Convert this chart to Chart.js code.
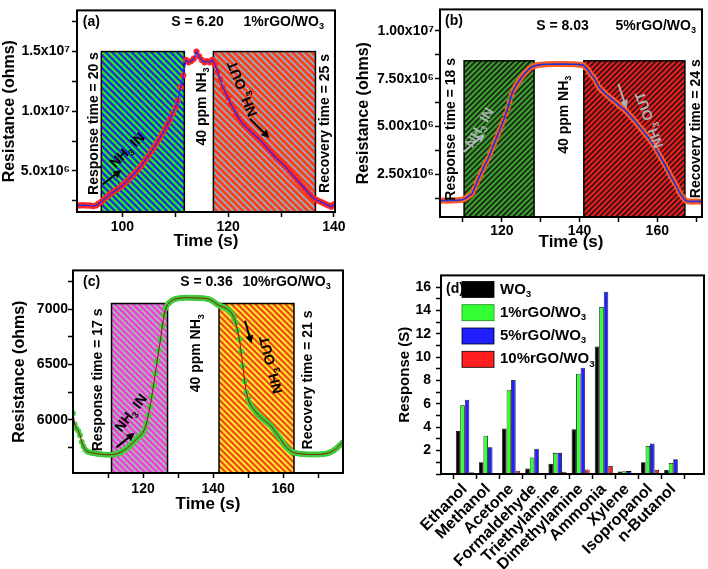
<!DOCTYPE html>
<html>
<head>
<meta charset="utf-8">
<script src="https://cdn.jsdelivr.net/npm/chart.js@4.4.0/dist/chart.umd.min.js"></script>
<style>
  body { margin: 0; background: #fff; width: 708px; height: 569px; position: relative; overflow: hidden; }
  canvas { position: absolute; }
</style>
</head>
<body>
<canvas id="ca" width="354" height="262" style="left:0;top:0"></canvas>
<canvas id="cb" width="354" height="262" style="left:354px;top:0"></canvas>
<canvas id="cc" width="354" height="307" style="left:0;top:262px"></canvas>
<canvas id="cd" width="354" height="307" style="left:354px;top:262px"></canvas>
<script>
// sampling: one point every 0.5 s
const stepT = 0.5;
const startA = 91.5, startB = 104, startC = 100;

// (a) 1%rGO/WO3, resistance in 10^6 ohms
const resistanceA = [
  2.1, 2.1, 2.12, 2.1, 2.1, 2.08, 2.05, 2.1, 2.25, 2.4,
  2.6, 2.8, 3.0, 3.15, 3.3, 3.45, 3.6, 3.8, 4.0, 4.2,
  4.45, 4.65, 4.9, 5.15, 5.4, 5.7, 6.0, 6.3, 6.65, 7.0,
  7.35, 7.7, 8.1, 8.5, 8.9, 9.3, 9.8, 10.3, 10.9, 12.0,
  13.0, 14.3, 14.1, 14.2, 14.4, 15.0, 14.6, 14.3, 14.1, 14.2,
  14.1, 14.3, 13.9, 13.3, 12.7, 12.0, 11.5, 11.1, 10.6, 10.2,
  9.8, 9.4, 9.1, 8.85, 8.6, 8.4, 8.2, 8.0, 7.8, 7.6,
  7.35, 7.1, 6.85, 6.6, 6.35, 6.1, 5.9, 5.7, 5.5, 5.25,
  5.0, 4.75, 4.5, 4.25, 4.0, 3.75, 3.5, 3.25, 3.0, 2.75,
  2.6, 2.5, 2.4, 2.3, 2.2, 2.1, 2.0, 2.2
];

// (b) 5%rGO/WO3, resistance in 10^6 ohms
const resistanceB = [
  1.15, 1.14, 1.15, 1.15, 1.14, 1.15, 1.15, 1.15, 1.16, 1.15, 1.17, 1.18,
  1.2, 1.25, 1.3, 1.38, 1.45, 1.55, 1.8, 2.05, 2.3, 2.5,
  2.72, 2.95, 3.15, 3.35, 3.6, 3.85, 4.1, 4.35, 4.6, 4.85,
  5.1, 5.35, 5.65, 5.95, 6.3, 6.65, 6.9, 7.1, 7.25, 7.4,
  7.55, 7.68, 7.8, 7.9, 8.0, 8.08, 8.13, 8.17, 8.2, 8.22,
  8.23, 8.24, 8.24, 8.25, 8.25, 8.25, 8.26, 8.26, 8.26, 8.26, 8.26,
  8.26, 8.26, 8.26, 8.25, 8.25, 8.25, 8.25, 8.24, 8.24, 8.23, 8.22,
  8.2, 8.1, 8.0, 7.85, 7.7, 7.6, 7.45, 7.25, 7.05, 6.95,
  6.85, 6.75, 6.65, 6.57, 6.48, 6.4, 6.32, 6.23, 6.14, 6.05,
  5.98, 5.9, 5.8, 5.7, 5.58, 5.47, 5.35, 5.23, 5.1, 4.98,
  4.86, 4.73, 4.6, 4.48, 4.36, 4.2, 4.05, 3.88, 3.7, 3.52,
  3.35, 3.17, 3.0, 2.8, 2.6, 2.4, 2.22, 2.05, 1.85, 1.65,
  1.48, 1.35, 1.2, 1.12,
  1.1, 1.1, 1.09, 1.1, 1.1, 1.1, 1.09, 1.1
];

// (c) 10%rGO/WO3, resistance in ohms
const resistanceC = [
  6060, 5960, 5920, 5900, 5860, 5800, 5760, 5730, 5715, 5708,
  5703, 5700, 5698, 5695, 5692, 5690, 5688, 5686, 5685, 5684,
  5684, 5684, 5685, 5686, 5688, 5692, 5698, 5705, 5713, 5722,
  5733, 5745, 5758, 5772, 5788, 5805, 5822, 5838, 5852, 5866,
  5885, 5920, 5970, 6040, 6120, 6210, 6310, 6420, 6530, 6630,
  6730, 6850, 6950, 7010, 7045, 7060, 7075, 7085, 7092, 7097,
  7100, 7102, 7104, 7105, 7106, 7106, 7106, 7105, 7105, 7104,
  7104, 7103, 7103, 7102, 7101, 7100, 7098, 7095, 7090, 7082,
  7073, 7062, 7050, 7040, 7032, 7027, 7020, 7012, 7004, 6993,
  6978, 6955, 6920, 6880, 6810, 6730, 6620, 6490, 6350, 6250,
  6190, 6145, 6118, 6098, 6080, 6060, 6042, 6028, 6012, 5998,
  5985, 5972, 5960, 5945, 5925, 5902, 5880, 5858, 5838, 5815,
  5790, 5768, 5750, 5735, 5722, 5712, 5704, 5699, 5696, 5694,
  5692, 5690, 5689, 5688, 5687, 5686, 5686, 5686, 5686, 5686,
  5686, 5687, 5688, 5690, 5692, 5695, 5700, 5706, 5714, 5724,
  5735, 5750, 5765, 5780, 5795
];

// (d) response of each sensor to each gas
const gases = ["Ethanol", "Methanol", "Acetone", "Formaldehyde", "Triethylamine",
  "Dimethylamine", "Ammonia", "Xylene", "Isopropanol", "n-Butanol"];
const responseWO3 = [3.69, 1.0, 3.9, 0.47, 0.87, 3.82, 10.91, 0.22, 1.0, 0.35];
const response1 = [5.88, 3.28, 7.22, 1.41, 1.81, 8.59, 14.31, 0.28, 2.4, 0.95];
const response5 = [6.36, 2.29, 8.05, 2.16, 1.81, 9.09, 15.6, 0.25, 2.62, 1.27];
const response10 = [0.15, 0.05, 0.28, 0.05, 0.2, 0.39, 0.69, 0.06, 0.35, 0.05];
const seriesNames = ["WO_3", "1%rGO/WO_3", "5%rGO/WO_3", "10%rGO/WO_3"];

// tick values and labels
const xTicksA = [100, 110, 120, 130, 140];
const xLabelsA = ["100", "", "120", "", "140"];
const yTicksA = [2.5, 5, 7.5, 10, 12.5, 15, 17.5];
const yLabelsA = ["", "5.0x10⁶", "", "1.0x10⁷", "", "1.5x10⁷", ""];
const xTicksB = [110, 120, 130, 140, 150, 160, 170];
const xLabelsB = ["", "120", "", "140", "", "160", ""];
const yTicksB = [1.25, 2.5, 3.75, 5, 6.25, 7.5, 8.75, 10];
const yLabelsB = ["", "2.50x10⁶", "", "5.00x10⁶", "", "7.50x10⁶", "", "1.00x10⁷"];
const xTicksC = [110, 120, 130, 140, 150, 160, 170];
const xLabelsC = ["", "120", "", "140", "", "160", ""];
const yTicksC = [5750, 6000, 6250, 6500, 6750, 7000, 7250];
const yLabelsC = ["", "6000", "", "6500", "", "7000", ""];
const yTicksD = [0, 1, 2, 3, 4, 5, 6, 7, 8, 9, 10, 11, 12, 13, 14, 15, 16];
const yLabelsD = ["", "", "2", "", "4", "", "6", "", "8", "", "10", "", "12", "", "14", "", "16"];

Chart.defaults.font.family = '"Liberation Sans", Arial, sans-serif';
Chart.defaults.font.weight = "bold";
Chart.defaults.color = "#000";
Chart.defaults.animation = false;

const FONT = '"Liberation Sans", Arial, sans-serif';

// "_3" turns the next character into a subscript
function richParts(str) {
  const parts = [];
  let buf = "";
  for (let i = 0; i < str.length; i++) {
    if (str[i] === "_") {
      if (buf) parts.push([buf, false]);
      parts.push([str[i + 1], true]);
      buf = "";
      i++;
    } else {
      buf += str[i];
    }
  }
  if (buf) parts.push([buf, false]);
  return parts;
}

function drawRich(ctx, str, x, y, o) {
  const size = o.size || 14;
  const parts = richParts(str);
  ctx.save();
  ctx.translate(x, y);
  ctx.rotate((o.angle || 0) * Math.PI / 180);
  ctx.fillStyle = o.color || "#000";
  ctx.textBaseline = "middle";
  ctx.textAlign = "left";
  let w = 0;
  parts.forEach(p => {
    ctx.font = "bold " + (p[1] ? size * 0.65 : size) + "px " + FONT;
    w += ctx.measureText(p[0]).width;
  });
  let cx = o.align === "left" ? 0 : -w / 2;
  parts.forEach(p => {
    ctx.font = "bold " + (p[1] ? size * 0.65 : size) + "px " + FONT;
    ctx.fillText(p[0], cx, p[1] ? size * 0.32 : 0);
    cx += ctx.measureText(p[0]).width;
  });
  ctx.restore();
}

function hatch(ctx, x0, y0, x1, y1, r) {
  const h = y1 - y0;
  ctx.save();
  ctx.beginPath();
  ctx.rect(x0, y0, x1 - x0, h);
  ctx.clip();
  ctx.fillStyle = r.base;
  ctx.fillRect(x0, y0, x1 - x0, h);
  ctx.fillStyle = r.stripe;
  for (let k = -h; k < x1 - x0 + h; k += r.period) {
    ctx.beginPath();
    if (r.dir === "\\") {
      ctx.moveTo(x0 + k, y0); ctx.lineTo(x0 + k + r.sw, y0);
      ctx.lineTo(x0 + k + r.sw + h, y1); ctx.lineTo(x0 + k + h, y1);
    } else {
      ctx.moveTo(x0 + k, y1); ctx.lineTo(x0 + k + r.sw, y1);
      ctx.lineTo(x0 + k + r.sw + h, y0); ctx.lineTo(x0 + k + h, y0);
    }
    ctx.fill();
  }
  ctx.restore();
  ctx.strokeStyle = "#000";
  ctx.lineWidth = 1.5;
  ctx.strokeRect(x0, y0, x1 - x0, h);
}

function arrow(ctx, x0, y0, x1, y1, color) {
  const a = Math.atan2(y1 - y0, x1 - x0), L = 8, W = 4;
  ctx.save();
  ctx.strokeStyle = color;
  ctx.fillStyle = color;
  ctx.lineWidth = 2;
  ctx.beginPath();
  ctx.moveTo(x0, y0);
  ctx.lineTo(x1 - L * 0.7 * Math.cos(a), y1 - L * 0.7 * Math.sin(a));
  ctx.stroke();
  ctx.beginPath();
  ctx.moveTo(x1, y1);
  ctx.lineTo(x1 - L * Math.cos(a) + W * Math.sin(a), y1 - L * Math.sin(a) - W * Math.cos(a));
  ctx.lineTo(x1 - L * Math.cos(a) - W * Math.sin(a), y1 - L * Math.sin(a) + W * Math.cos(a));
  ctx.closePath();
  ctx.fill();
  ctx.restore();
}

// shaded gas windows, labels and arrows, in data units
const GRAY = "#a9b4b4";
const decoByChart = {
  ca: {
    rects: [
      { x0: 96.0, x1: 111.7, top: 15, base: "#22ee22", stripe: "#2424e6", dir: "\\", period: 6.5, sw: 3.2 },
      { x0: 117.2, x1: 136.5, top: 15, base: "#ff3c12", stripe: "#8fb0c8", dir: "\\", period: 6.5, sw: 2.6 }
    ],
    texts: [
      { s: "(a)", x: 94.1, y: 17.48 },
      { s: "S = 6.20", x: 114.2, y: 17.48 },
      { s: "1%rGO/WO_3", x: 130.5, y: 17.48 },
      { s: "Response time = 20 s", x: 94.6, y: 8.97, angle: -90 },
      { s: "40 ppm NH_3", x: 115, y: 10.4, angle: -90 },
      { s: "Recovery time = 25 s", x: 138.4, y: 8.97, angle: -90 },
      { s: "NH_3 IN", x: 101, y: 6.7, angle: -45 },
      { s: "NH_3 OUT", x: 122.8, y: 11.9, angle: -112 }
    ],
    arrows: [
      { x0: 96.3, y0: 3.87, x1: 99.8, y1: 5.08, color: "#000" },
      { x0: 124.1, y0: 9.38, x1: 127.8, y1: 7.76, color: "#000" }
    ]
  },
  cb: {
    rects: [
      { x0: 110.3, x1: 128.3, top: 8.43, base: "#3a9a2c", stripe: "#151515", dir: "/", period: 5.5, sw: 2.2 },
      { x0: 141.1, x1: 167.1, top: 8.43, base: "#e81c1c", stripe: "#151515", dir: "/", period: 5.5, sw: 2.2 }
    ],
    texts: [
      { s: "(b)", x: 107.7, y: 10.5 },
      { s: "S = 8.03", x: 135.6, y: 10.22 },
      { s: "5%rGO/WO_3", x: 159.6, y: 10.22 },
      { s: "Response time = 18 s", x: 106.9, y: 4.86, angle: -90 },
      { s: "40 ppm NH_3", x: 136, y: 5.62, angle: -90 },
      { s: "Recovery time = 24 s", x: 169.9, y: 4.89, angle: -90 },
      { s: "NH_3 IN", x: 114.4, y: 4.94, angle: -60, color: GRAY },
      { s: "NH_3 OUT", x: 158.1, y: 5.36, angle: -110, color: GRAY }
    ],
    arrows: [
      { x0: 110.1, y0: 3.68, x1: 115.7, y1: 4.6, color: GRAY },
      { x0: 150, y0: 7.22, x1: 152.1, y1: 5.95, color: GRAY }
    ]
  },
  cc: {
    rects: [
      { x0: 111.0, x1: 127.0, top: 7053, base: "#f23ed4", stripe: "#9fc0b4", dir: "\\", period: 6, sw: 2.4 },
      { x0: 141.7, x1: 163.1, top: 7053, base: "#ffe02a", stripe: "#f23c14", dir: "\\", period: 6, sw: 2.8 }
    ],
    texts: [
      { s: "(c)", x: 105.3, y: 7250 },
      { s: "S = 0.36", x: 138.1, y: 7250 },
      { s: "10%rGO/WO_3", x: 161, y: 7250 },
      { s: "Response time = 17 s", x: 107.1, y: 6361, angle: -90 },
      { s: "40 ppm NH_3", x: 135.3, y: 6603, angle: -90 },
      { s: "Recovery time = 21 s", x: 167.1, y: 6361, angle: -90 },
      { s: "NH_3 IN", x: 116.7, y: 6059, angle: -52 },
      { s: "NH_3 OUT", x: 156.7, y: 6500, angle: -104 }
    ],
    arrows: [
      { x0: 112.4, y0: 5750, x1: 117.6, y1: 5882, color: "#000" },
      { x0: 149.1, y0: 6897, x1: 151, y1: 6691, color: "#000" }
    ]
  }
};

const decoPlugin = {
  id: "deco",
  beforeDatasetsDraw(chart) {
    const d = decoByChart[chart.canvas.id];
    if (!d) return;
    const { ctx, chartArea: ca, scales: { x, y } } = chart;
    d.rects.forEach(r => {
      hatch(ctx, x.getPixelForValue(r.x0), y.getPixelForValue(r.top), x.getPixelForValue(r.x1), ca.bottom, r);
    });
  },
  afterDatasetsDraw(chart) {
    const { ctx, chartArea: ca, scales: { x, y } } = chart;
    const d = decoByChart[chart.canvas.id];
    if (d) {
      d.arrows.forEach(a => arrow(ctx, x.getPixelForValue(a.x0), y.getPixelForValue(a.y0),
        x.getPixelForValue(a.x1), y.getPixelForValue(a.y1), a.color));
      d.texts.forEach(t => drawRich(ctx, t.s, x.getPixelForValue(t.x), y.getPixelForValue(t.y),
        { angle: t.angle, color: t.color, size: 14 }));
    }
    if (chart.canvas.id === "cd") {
      // legend inside the plot, like the original
      drawRich(ctx, "(d)", ca.left + 5, ca.top + 14, { align: "left", size: 14 });
      chart.data.datasets.forEach((ds, i) => {
        const cy = ca.top + 14 + i * 23.3;
        ctx.fillStyle = ds.backgroundColor;
        ctx.fillRect(ca.left + 21, cy - 8, 32, 16);
        ctx.strokeStyle = i === 1 ? "#1a8a1a" : "#000";
        ctx.lineWidth = 0.8;
        ctx.strokeRect(ca.left + 21, cy - 8, 32, 16);
        drawRich(ctx, seriesNames[i], ca.left + 59, cy, { align: "left", size: 15 });
      });
    }
    ctx.save();
    ctx.strokeStyle = "#000";
    ctx.lineWidth = 2;
    ctx.strokeRect(ca.left, ca.top, ca.right - ca.left, ca.bottom - ca.top);
    ctx.restore();
  }
};
Chart.register(decoPlugin);

function axis(o) {
  return {
    type: "linear",
    min: o.min,
    max: o.max,
    afterBuildTicks: s => { s.ticks = o.ticks.map(v => ({ value: v })); },
    afterFit: s => { if (o.width) s.width = o.width; if (o.height) s.height = o.height; },
    border: { display: false },
    grid: { drawOnChartArea: false, drawTicks: true, tickLength: 5, color: "#000", tickWidth: 1.5 },
    ticks: {
      autoSkip: false,
      padding: o.pad,
      color: "#000",
      maxRotation: o.rot || 0,
      minRotation: o.rot || 0,
      font: { size: o.fontSize || 14, weight: "bold" },
      callback: (v, i) => o.labels[i]
    },
    title: {
      display: !!o.title,
      text: o.title,
      color: "#000",
      font: { size: o.titleSize || 16, weight: "bold" },
      padding: { top: o.titlePad || 0, bottom: 0 }
    }
  };
}

function toPoints(values, start) {
  return values.map((v, i) => ({ x: start + i * stepT, y: v }));
}

function lineChart(id, values, start, dotColor, dotRadius, lineColor, lineWidth, pad, xa, ya) {
  const pts = toPoints(values, start);
  return new Chart(document.getElementById(id), {
    type: "line",
    data: {
      datasets: [
        { data: pts, borderColor: lineColor, borderWidth: lineWidth, pointRadius: 0, order: 0 },
        { data: pts, showLine: false, pointRadius: dotRadius, pointBackgroundColor: dotColor, pointBorderWidth: 0, order: 1 }
      ]
    },
    options: {
      responsive: false,
      devicePixelRatio: 1,
      layout: { padding: pad },
      plugins: { legend: { display: false }, tooltip: { enabled: false } },
      scales: { x: axis(xa), y: axis(ya) }
    }
  });
}

lineChart("ca", resistanceA, startA, "#ff2424", 3.1, "#2a2ae8", 1.3,
  { left: 0, top: 3, right: 19, bottom: 10 },
  { min: 91.4, max: 140.2, ticks: xTicksA, labels: xLabelsA, height: 40, pad: 2, title: "Time (s)", titleSize: 17 },
  { min: 1.55, max: 18.45, ticks: yTicksA, labels: yLabelsA, width: 77, pad: 2, title: "Resistance (ohms)" });

lineChart("cb", resistanceB, startB, "#ff5a22", 3.0, "#2233d6", 1.7,
  { left: 0, top: 3, right: 6, bottom: 9 },
  { min: 104.1, max: 171.5, ticks: xTicksB, labels: xLabelsB, height: 36, pad: 1, title: "Time (s)", titleSize: 17 },
  { min: 0.29, max: 11.11, ticks: yTicksB, labels: yLabelsB, width: 86, pad: 1, title: "Resistance (ohms)" });

lineChart("cc", resistanceC, startC, "#3ccc3c", 2.9, "#8a1e00", 1.0,
  { left: 0, top: 3, right: 11, bottom: 54 },
  { min: 100, max: 177.1, ticks: xTicksC, labels: xLabelsC, height: 42, pad: 3, title: "Time (s)", titleSize: 17 },
  { min: 5518, max: 7353, ticks: yTicksC, labels: yLabelsC, width: 73, pad: 0, title: "Resistance (ohms)", titlePad: 10 });

// (d) grouped bars on a linear index axis
const barColors = ["#000000", "#33ff33", "#1f1fff", "#ff1f1f"];
const barSeries = [responseWO3, response1, response5, response10];
new Chart(document.getElementById("cd"), {
  type: "bar",
  data: {
    datasets: barSeries.map((vals, k) => ({
      label: seriesNames[k],
      data: vals.map((v, i) => ({ x: i, y: v })),
      backgroundColor: barColors[k],
      borderColor: "#000",
      borderWidth: 0.8,
      categoryPercentage: 0.78,
      barPercentage: 1
    }))
  },
  options: {
    responsive: false,
    devicePixelRatio: 1,
    layout: { padding: { left: 40, top: 1, right: 4, bottom: 0 } },
    plugins: { legend: { display: false }, tooltip: { enabled: false } },
    scales: {
      x: axis({ min: -0.46, max: 9.76, ticks: gases.map((g, i) => i), labels: gases, height: 95, pad: 1, rot: 45, fontSize: 16 }),
      y: axis({ min: 0, max: 17, ticks: yTicksD, labels: yLabelsD, width: 47, pad: 5, fontSize: 14, title: "Response (S)", titleSize: 15, titlePad: 2 })
    }
  }
});
</script>
</body>
</html>
